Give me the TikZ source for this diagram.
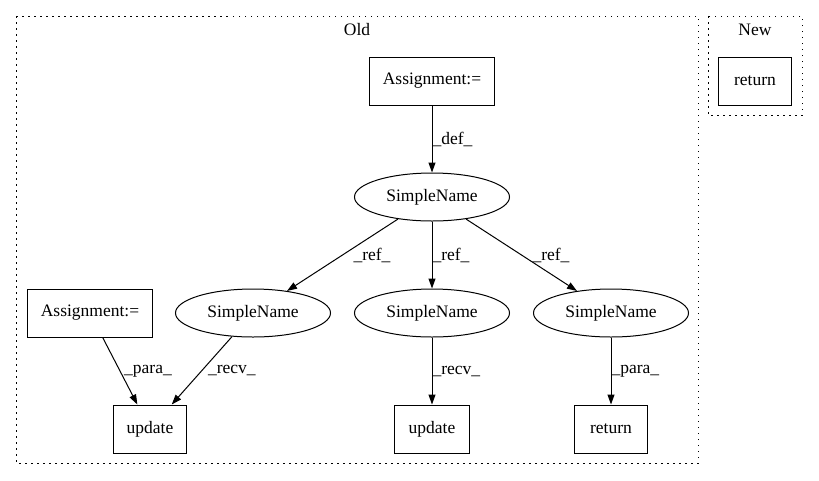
\documentclass[tikz,border=0pt]{standalone}
\usepackage{fontspec}
\setmainfont{Liberation Serif}
\usetikzlibrary{shapes.geometric,arrows.meta}
\begin{document}
\begin{tikzpicture}[x=1pt,y=-1pt,
  font=\fontsize{17.5}{21}\selectfont,
  every node/.style={line width=1pt},
  boxnode/.style={draw, rectangle, minimum height=48pt, inner sep=0pt},
  ellnode/.style={draw, ellipse, minimum width=155pt, minimum height=48pt, inner sep=0pt},
  cluster/.style={draw, line width=1pt, dash pattern=on 1.5pt off 4.5pt},
  edge/.style={draw, line width=1pt, -{Triangle[length=10pt,width=7pt]}},
  vlab/.style={pos=0.5, anchor=west, inner sep=0pt},
  dlab/.style={pos=0.5, anchor=center, inner sep=0pt}
]
\useasboundingbox (0,0) rectangle (819,480);
% clusters
\draw[cluster] (16,16) rectangle (698,463);
\draw[cluster] (708,16) rectangle (802,115);
\node (oldlab) at (357,30) {Old};
\node (newlab) at (755,30) {New};
% nodes
\node[boxnode, minimum width=125pt] (a1) at (432,81) {Assignment:=};
\node[ellnode] (sn0) at (432,197) {SimpleName};
\node[ellnode] (sn1) at (253,313) {SimpleName};
\node[ellnode] (sn2) at (432,313) {SimpleName};
\node[ellnode] (sn3) at (611,313) {SimpleName};
\node[boxnode, minimum width=125pt] (a2) at (90,313) {Assignment:=};
\node[boxnode, minimum width=73pt] (u1) at (150,429) {update};
\node[boxnode, minimum width=75pt] (u2) at (432,429) {update};
\node[boxnode, minimum width=73pt] (r1) at (611,429) {return};
\node[boxnode, minimum width=73pt] (rn) at (755,81) {return};
% edges
\draw[edge] (a1) -- (sn0) node[vlab] {\_def\_};
\draw[edge] (sn0) -- (sn1) node[dlab, xshift=29.5pt] {\_ref\_};
\draw[edge] (sn0) -- (sn2) node[vlab] {\_ref\_};
\draw[edge] (sn0) -- (sn3) node[dlab, xshift=29.5pt] {\_ref\_};
\draw[edge] (a2) -- (u1) node[dlab, xshift=28pt] {\_para\_};
\draw[edge] (sn1) -- (u1) node[dlab, xshift=30pt] {\_recv\_};
\draw[edge] (sn2) -- (u2) node[vlab] {\_recv\_};
\draw[edge] (sn3) -- (r1) node[vlab] {\_para\_};
\end{tikzpicture}
\end{document}
